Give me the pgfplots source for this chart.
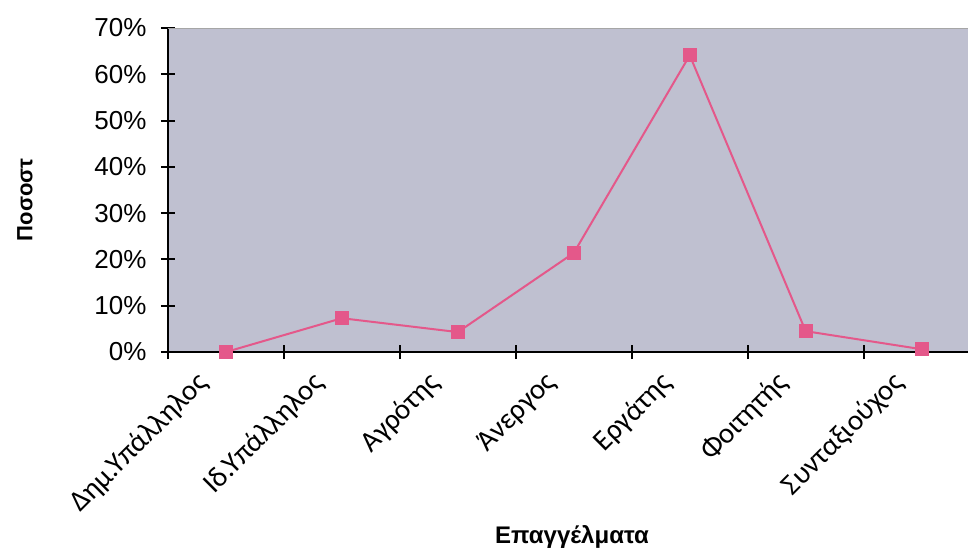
\documentclass[border=0pt]{standalone}
\usepackage{pgfplots}
\pgfplotsset{compat=1.18}
\usepackage{fontspec}
\setmainfont{Liberation Sans}
\newfontfamily\carl{Carlito}
\definecolor{bg}{RGB}{191,192,208}
\definecolor{pk}{RGB}{228,88,138}
\begin{document}
\begin{tikzpicture}[x=1pt,y=1pt]
\path[use as bounding box] (0,0) rectangle (968,552);
\begin{axis}[
  at={(168pt,200pt)}, anchor=south west,
  scale only axis, width=800pt, height=324pt,
  xmin=-0.5, xmax=6.4, ymin=0, ymax=70,
  clip=false,
  axis line style={draw=none},
  axis background/.style={fill=bg},
  xtick={0,...,6},
  xticklabels={Δημ.Υπάλληλος,Ιδ.Υπάλληλος,Αγρότης,Άνεργος,Εργάτης,Φοιτητής,Συνταξιούχος},
  major x tick style={draw=none},
  minor xtick={-0.5,0.5,1.5,2.5,3.5,4.5,5.5},
  ytick={0,10,...,70},
  yticklabel={\pgfmathprintnumber{\tick}\%},
  /pgf/number format/assume math mode=true,
  tick align=center,
  major tick length=14pt, minor tick length=14pt,
  tick style={black, line width=2pt},
  xtick pos=bottom, ytick pos=left,
  yticklabel style={font=\fontsize{26}{30}\selectfont, anchor=east, xshift=-11pt},
  xticklabel style={font=\carl\fontsize{29}{34}\selectfont, rotate=45, anchor=east, xshift=-26pt, yshift=2pt},
  every axis y label/.style={at={(rel axis cs:0,0.47)}, rotate=90, anchor=center, yshift=143pt, font=\bfseries\fontsize{22}{26}\selectfont},
  every axis x label/.style={at={(rel axis cs:0.505,0)}, anchor=center, yshift=-185pt, font=\bfseries\fontsize{24}{28}\selectfont},
  ylabel={Ποσοστ},
  xlabel={Επαγγέλματα},
]
\addplot[pk, line width=2pt, mark=square*, mark size=6.5pt, mark options={fill=pk, draw=pk, line width=0pt}]
  coordinates {(0,0) (1,7.3) (2,4.3) (3,21.4) (4,64.1) (5,4.5) (6,0.6)};
\draw[line width=2.5pt] (rel axis cs:0,1) -- (rel axis cs:0,0) -- (rel axis cs:1,0);
\draw[gray!70, line width=1pt] (rel axis cs:0,1) -- (rel axis cs:1,1);
\end{axis}
\end{tikzpicture}
\end{document}
